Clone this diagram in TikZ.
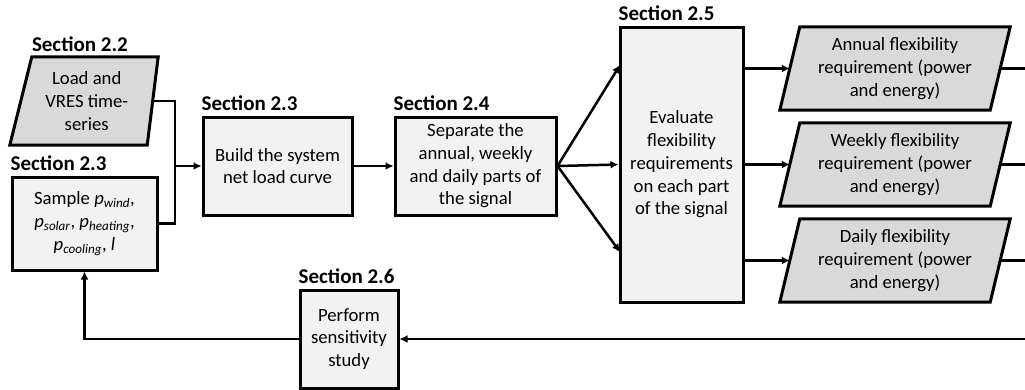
\documentclass[tikz,border=0pt]{standalone}
\usepackage{fontspec}
\setmainfont{Carlito}
\usetikzlibrary{arrows.meta,calc}
\begin{document}
\begin{tikzpicture}[x=1pt,y=-1pt,
  font=\fontsize{18.7}{22.7}\selectfont,
  box/.style={draw=black,line width=3pt,fill=boxfill,align=center,inner sep=2pt,anchor=center},
  para/.style={align=center,inner sep=0pt,anchor=center},
  pshape/.style={draw=black,line width=3pt,fill=parafill,line join=miter},
  hdr/.style={font=\fontsize{21}{24}\selectfont\bfseries,anchor=south west,inner sep=0pt},
  conn/.style={line width=2.5pt,line join=miter},
  arr/.style={conn,-{Latex[length=8pt,width=8pt]}}]
\definecolor{boxfill}{HTML}{F2F2F2}
\definecolor{parafill}{HTML}{D9D9D9}
\useasboundingbox (0,0) rectangle (1025,389);

% input parallelogram
\node[para,minimum width=131.5pt,minimum height=88pt] (lvr) at (86.75,101) {};
\draw[pshape] ($(lvr.south west)+(-11pt,0)$) -- ($(lvr.north west)+(11pt,0)$) -- ($(lvr.north east)+(5.5pt,0)$) -- ($(lvr.south east)+(-5.5pt,0)$) -- cycle;
\node[para] at (lvr) {Load and\\VRES time-\\series};
\node[hdr] at ($(lvr.north west)+(11pt,5pt)$) {Section 2.2};

% sample box
\node[box,minimum width=145pt,minimum height=93pt] (samp) at (84.5,223.5)
  {Sample \textit{p}\textsubscript{\textit{wind}},\\
   \textit{p}\textsubscript{\textit{solar}}, \textit{p}\textsubscript{\textit{heating}},\\
   \textit{p}\textsubscript{\textit{cooling}}, \textit{l}};
\node[hdr] at ($(samp.north west)+(0,5pt)$) {Section 2.3};

% build
\node[box,minimum width=149pt,minimum height=98pt] (build) at (277.5,166) {Build the system\\net load curve};
\node[hdr] at ($(build.north west)+(0,5pt)$) {Section 2.3};

% separate
\node[box,minimum width=161pt,minimum height=98pt] (sep) at (475.5,166) {Separate the\\annual, weekly\\and daily parts of\\the signal};
\node[hdr] at ($(sep.north west)+(0,5pt)$) {Section 2.4};

% evaluate
\node[box,minimum width=123pt,minimum height=275pt] (eval) at (681.5,164.5) {Evaluate\\flexibility\\requirements\\on each part\\of the signal};
\node[hdr] at ($(eval.north west)+(0,5pt)$) {Section 2.5};

% output parallelograms
\foreach \nm/\yy/\txt in {ann/68.5/Annual, wk/164.5/Weekly, dly/260.5/Daily}{
  \node[para,minimum width=210pt,minimum height=83pt] (\nm) at (895,\yy) {};
  \draw[pshape] ($(\nm.south west)+(-10pt,0)$) -- ($(\nm.north west)+(10pt,0)$) -- ($(\nm.north east)+(10pt,0)$) -- ($(\nm.south east)+(-10pt,0)$) -- cycle;
  \node[para] at (\nm) {\txt{} flexibility\\requirement (power\\and energy)};
}

% sensitivity
\node[box,minimum width=98pt,minimum height=98pt] (sens) at (349,339) {Perform\\sensitivity\\study};
\node[hdr] at ($(sens.north west)+(0,5pt)$) {Section 2.6};

% coordinates
\coordinate (j) at (175,166);
\coordinate (a1) at (620,65);
\coordinate (a3) at (620,252);
\coordinate (e1) at (1025,68.5);
\coordinate (e2) at (1025,164.5);
\coordinate (e3) at (1025,260.5);
\coordinate (e4) at (1025,339);

% connectors
\draw[conn] (lvr.east) -| (j);
\draw[conn] (samp.east) -| (j);
\draw[arr] (j) -- (build.west);
\draw[arr] (build.east) -- (sep.west);
\draw[arr] (sep.east) -- (a1);
\draw[arr] (sep.east) -- (eval.west);
\draw[arr] (sep.east) -- (a3);
\draw[arr] (eval.east |- ann.west) -- (ann.west);
\draw[arr] (eval.east |- wk.west) -- (wk.west);
\draw[arr] (eval.east |- dly.west) -- (dly.west);
\draw[conn] (ann.east) -- (e1);
\draw[conn] (wk.east) -- (e2);
\draw[conn] (dly.east) -- (e3);
\draw[arr] (e4) -- (sens.east);
\draw[arr] (sens.west) -| (samp.south);
\end{tikzpicture}
\end{document}
